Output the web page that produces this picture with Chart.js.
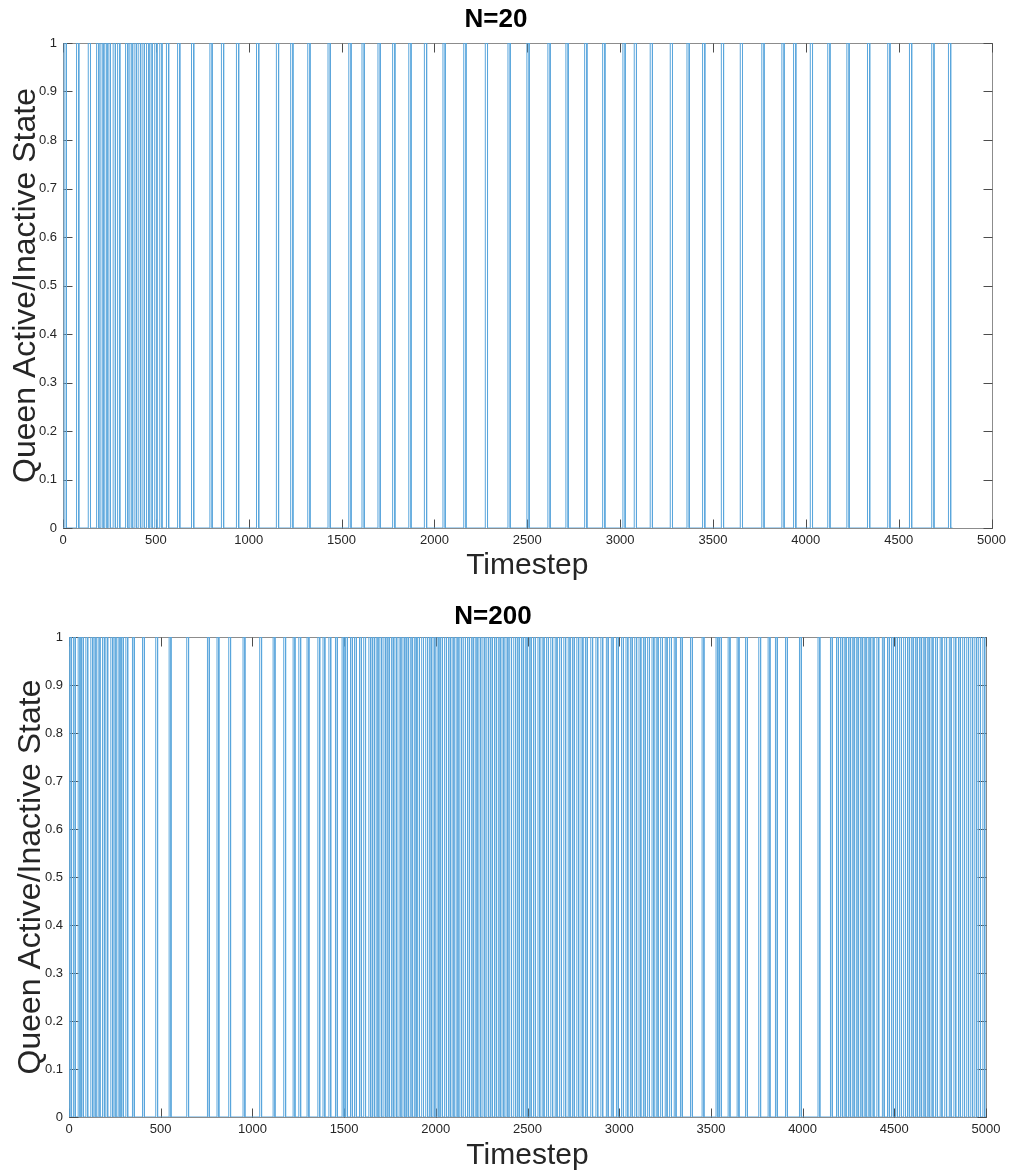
<!DOCTYPE html>
<html>
<head>
<meta charset="UTF-8">
<title>Queen Active/Inactive State</title>
<script src="https://cdn.jsdelivr.net/npm/chart.js@4.4.0/dist/chart.umd.min.js"></script>
<style>
  body { margin: 0; background: #fff; }
  canvas { display: block; }
</style>
</head>
<body>
<canvas id="n20Chart" width="1011" height="585"></canvas>
<canvas id="n200Chart" width="1011" height="589"></canvas>
<script>
// axis ticks
const xTicks = [0, 500, 1000, 1500, 2000, 2500, 3000, 3500, 4000, 4500, 5000];
const yTicks = [0, 0.1, 0.2, 0.3, 0.4, 0.5, 0.6, 0.7, 0.8, 0.9, 1];

// queen active periods as [on, off] timesteps, inactive (0) otherwise
const n20Pulses = [
  [6, 18], [73, 85], [136, 148], [181, 193], [204, 216], [225, 237], [243, 255], [270, 282],
  [294, 306], [337, 349], [360, 372], [383, 395], [405, 417], [426, 438], [450, 462], [468, 480],
  [494, 506], [521, 533], [557, 569], [617, 629], [692, 704], [791, 803], [853, 865], [934, 946],
  [1042, 1054], [1149, 1161], [1226, 1238], [1318, 1330], [1427, 1439], [1539, 1551], [1610, 1622],
  [1696, 1708], [1775, 1787], [1862, 1874], [1946, 1958], [2046, 2058], [2158, 2170], [2274, 2286],
  [2396, 2408], [2498, 2510], [2611, 2623], [2708, 2720], [2809, 2821], [2906, 2918], [3015, 3027],
  [3076, 3088], [3162, 3174], [3270, 3282], [3360, 3372], [3444, 3456], [3545, 3557], [3647, 3659],
  [3763, 3775], [3871, 3883], [3934, 3946], [4024, 4036], [4118, 4130], [4221, 4233], [4332, 4344],
  [4441, 4453], [4558, 4570], [4678, 4690], [4768, 4780]
];
const n20End = 4790;

const n200Pulses = [
  [2, 12], [24, 34], [50, 60], [68, 78], [92, 102], [119, 129], [137, 147], [159, 169], [183, 193],
  [201, 211], [228, 238], [246, 256], [268, 278], [286, 296], [310, 320], [346, 356], [401, 411],
  [473, 483], [546, 556], [642, 652], [755, 765], [807, 817], [871, 881], [949, 959], [1040, 1050],
  [1113, 1123], [1171, 1181], [1222, 1232], [1253, 1263], [1298, 1308], [1357, 1367], [1385, 1395],
  [1417, 1427], [1453, 1463], [1489, 1499], [1508, 1518], [1535, 1545], [1557, 1567], [1584, 1594],
  [1607, 1617], [1635, 1645], [1655, 1665], [1675, 1685], [1695, 1705], [1717, 1727], [1736, 1746],
  [1758, 1768], [1777, 1787], [1800, 1810], [1821, 1831], [1840, 1850], [1861, 1871], [1883, 1893],
  [1901, 1911], [1923, 1933], [1945, 1955], [1965, 1975], [1985, 1995], [2007, 2017], [2026, 2036],
  [2048, 2058], [2069, 2079], [2089, 2099], [2111, 2121], [2131, 2141], [2152, 2162], [2173, 2183],
  [2194, 2204], [2215, 2225], [2235, 2245], [2257, 2267], [2278, 2288], [2298, 2308], [2320, 2330],
  [2341, 2351], [2361, 2371], [2383, 2393], [2403, 2413], [2425, 2435], [2445, 2455], [2467, 2477],
  [2488, 2498], [2510, 2520], [2533, 2543], [2557, 2567], [2580, 2590], [2604, 2614], [2627, 2637],
  [2651, 2661], [2675, 2685], [2698, 2708], [2722, 2732], [2745, 2755], [2769, 2779], [2792, 2802],
  [2816, 2826], [2845, 2855], [2873, 2883], [2900, 2910], [2930, 2940], [2957, 2967], [2985, 2995],
  [3013, 3023], [3037, 3047], [3061, 3071], [3085, 3095], [3108, 3118], [3132, 3142], [3155, 3165],
  [3179, 3189], [3202, 3212], [3226, 3236], [3251, 3261], [3275, 3285], [3300, 3310], [3334, 3344],
  [3389, 3399], [3452, 3462], [3528, 3538], [3547, 3557], [3594, 3604], [3643, 3653], [3689, 3699],
  [3761, 3771], [3812, 3822], [3852, 3862], [3907, 3917], [3983, 3993], [4084, 4094], [4152, 4162],
  [4185, 4195], [4207, 4217], [4227, 4237], [4250, 4260], [4271, 4281], [4293, 4303], [4315, 4325],
  [4336, 4346], [4358, 4368], [4379, 4389], [4405, 4415], [4435, 4445], [4463, 4473], [4485, 4495],
  [4507, 4517], [4529, 4539], [4551, 4561], [4572, 4582], [4593, 4603], [4615, 4625], [4637, 4647],
  [4658, 4668], [4680, 4690], [4701, 4711], [4725, 4735], [4750, 4760], [4775, 4785], [4800, 4810],
  [4825, 4835], [4850, 4860], [4873, 4883], [4895, 4905], [4917, 4927], [4939, 4949], [4960, 4970],
  [4983, 4993]
];
const n200End = 5000;

const fontFamily = '"Liberation Sans", Arial, Helvetica, sans-serif';
const textColor = '#262626';
const lineColor = '#5aa6dc';

// turn [on, off] pairs into a square wave
function toSteps(pulses, end) {
  const pts = [{ x: 0, y: 0 }];
  pulses.forEach(([on, off]) => {
    pts.push({ x: on, y: 0 }, { x: on, y: 1 }, { x: off, y: 1 }, { x: off, y: 0 });
  });
  pts.push({ x: end, y: 0 });
  return pts;
}

// box + inward tick marks, drawn under the data line
const boxTicks = {
  id: 'boxTicks',
  beforeDatasetsDraw(chart) {
    const { ctx, chartArea: a, scales: { x, y } } = chart;
    const len = 9;
    const l = Math.round(a.left) + 0.5, r = Math.round(a.right) + 0.5;
    const t = Math.round(a.top) + 0.5, b = Math.round(a.bottom) + 0.5;
    ctx.save();
    ctx.lineWidth = 1;
    ctx.strokeStyle = '#8c8c8c';
    ctx.strokeRect(l, t, r - l, b - t);
    ctx.strokeStyle = '#4d4d4d';
    ctx.beginPath();
    xTicks.forEach(v => {
      const px = Math.round(x.getPixelForValue(v)) + 0.5;
      ctx.moveTo(px, b); ctx.lineTo(px, b - len);
      ctx.moveTo(px, t); ctx.lineTo(px, t + len);
    });
    yTicks.forEach(v => {
      const py = Math.round(y.getPixelForValue(v)) + 0.5;
      ctx.moveTo(l, py); ctx.lineTo(l + len, py);
      ctx.moveTo(r, py); ctx.lineTo(r - len, py);
    });
    ctx.stroke();
    ctx.restore();
  }
};

function makeChart(id, title, pulses, end, box) {
  return new Chart(document.getElementById(id), {
    type: 'line',
    data: {
      datasets: [{
        data: toSteps(pulses, end),
        borderColor: lineColor,
        borderWidth: 1,
        pointRadius: 0,
        tension: 0,
        fill: false
      }]
    },
    options: {
      responsive: false,
      animation: false,
      events: [],
      layout: { padding: { left: 0, right: box.padRight, top: 0, bottom: 0 } },
      plugins: {
        legend: { display: false },
        tooltip: { enabled: false },
        title: {
          display: true,
          text: title,
          color: '#000',
          font: { family: fontFamily, size: 26, weight: 'bold', lineHeight: '30px' },
          padding: { top: box.titleTop, bottom: box.titleBottom }
        }
      },
      scales: {
        x: {
          type: 'linear',
          min: 0,
          max: 5000,
          grid: { display: false, drawTicks: false },
          border: { display: false },
          afterBuildTicks: s => { s.ticks = xTicks.map(v => ({ value: v })); },
          afterFit: s => { s.height = box.xHeight; },
          ticks: {
            color: textColor,
            font: { family: fontFamily, size: 13 },
            padding: 5,
            maxRotation: 0,
            autoSkip: false,
            callback: v => String(v)
          },
          title: {
            display: true,
            text: 'Timestep',
            color: textColor,
            font: { family: fontFamily, size: 30 },
            padding: { top: 0, bottom: box.xTitlePad }
          }
        },
        y: {
          min: 0,
          max: 1,
          grid: { display: false, drawTicks: false },
          border: { display: false },
          afterBuildTicks: s => { s.ticks = yTicks.map(v => ({ value: v })); },
          afterFit: s => { s.width = box.yWidth; },
          ticks: {
            color: textColor,
            font: { family: fontFamily, size: 13 },
            padding: 6,
            callback: v => String(Number(v.toFixed(1)))
          },
          title: {
            display: true,
            text: 'Queen Active/Inactive State',
            color: textColor,
            font: { family: fontFamily, size: 32 },
            padding: { top: box.yTitlePad, bottom: 0 }
          }
        }
      }
    },
    plugins: [boxTicks]
  });
}

makeChart('n20Chart', 'N=20', n20Pulses, n20End, {
  padRight: 19, yWidth: 63, xHeight: 57, titleTop: 5, titleBottom: 8, xTitlePad: 1, yTitlePad: 7
});
makeChart('n200Chart', 'N=200', n200Pulses, n200End, {
  padRight: 25, yWidth: 69, xHeight: 57, titleTop: 17, titleBottom: 5, xTitlePad: 0, yTitlePad: 12
});
</script>
</body>
</html>
